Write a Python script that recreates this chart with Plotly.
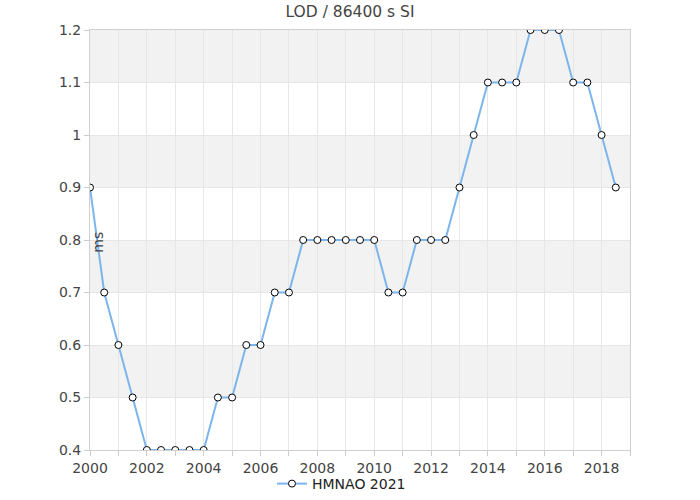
import plotly.graph_objects as go

years = [2000, 2000.5, 2001, 2001.5, 2002, 2002.5, 2003, 2003.5, 2004, 2004.5,
         2005, 2005.5, 2006, 2006.5, 2007, 2007.5, 2008, 2008.5, 2009, 2009.5,
         2010, 2010.5, 2011, 2011.5, 2012, 2012.5, 2013, 2013.5, 2014, 2014.5,
         2015, 2015.5, 2016, 2016.5, 2017, 2017.5, 2018, 2018.5]
lod_ms = [0.9, 0.7, 0.6, 0.5, 0.4, 0.4, 0.4, 0.4, 0.4, 0.5,
          0.5, 0.6, 0.6, 0.7, 0.7, 0.8, 0.8, 0.8, 0.8, 0.8,
          0.8, 0.7, 0.7, 0.8, 0.8, 0.8, 0.9, 1.0, 1.1, 1.1,
          1.1, 1.2, 1.2, 1.2, 1.1, 1.1, 1.0, 0.9]
series_name = "HMNAO 2021"
title_text = "LOD / 86400 s SI"
y_label = "ms"
band_edges = [0.4, 0.5, 0.6, 0.7, 0.8, 0.9, 1.0, 1.1, 1.2]

fig = go.Figure()
fig.add_trace(go.Scatter(
    x=years, y=lod_ms, mode="lines+markers", name=series_name,
    line=dict(color="#7cb5ec", width=2),
    marker=dict(symbol="circle", size=7, color="white",
                line=dict(color="black", width=1)),
))

shapes = []
for i in range(len(band_edges) - 1):
    if (len(band_edges) - 2 - i) % 2 == 0:
        shapes.append(dict(type="rect", xref="paper", yref="y", x0=0, x1=1,
                           y0=band_edges[i], y1=band_edges[i + 1],
                           fillcolor="#f2f2f2", line_width=0, layer="below"))

fig.update_layout(
    width=700, height=500,
    margin=dict(l=90, r=70, t=30, b=50, autoexpand=False),
    paper_bgcolor="white", plot_bgcolor="white",
    font=dict(family="DejaVu Sans", size=14, color="#444"),
    title=dict(text=title_text, x=0.5, xanchor="center", y=0.976, yanchor="middle",
               font=dict(size=15.5, color="#444")),
    shapes=shapes,
    showlegend=True,
    legend=dict(orientation="h", x=0.337, xanchor="left", y=0.032, yanchor="middle",
                yref="container",
                font=dict(size=14, color="#222"), bgcolor="rgba(0,0,0,0)"),
    xaxis=dict(range=[2000, 2019], dtick=2, tick0=2000, ticks="outside",
               ticklen=5, tickcolor="#ccc", showgrid=True, gridcolor="#e6e6e6",
               showline=True, linecolor="#d0d0d0", mirror=True, zeroline=False,
               automargin=False,
               tickfont=dict(size=14, color="#444"),
               minor=dict(dtick=1, ticks="outside", ticklen=5, tickcolor="#ccc",
                          showgrid=True, gridcolor="#e6e6e6")),
    yaxis=dict(range=[0.4, 1.2], dtick=0.1, ticks="outside", ticklen=5,
               tickcolor="#ccc", showgrid=True, gridcolor="#e6e6e6",
               showline=True, linecolor="#d0d0d0", mirror=True, zeroline=False,
               automargin=False,
               tickfont=dict(size=14, color="#444")),
    annotations=[dict(text=y_label, textangle=-90, xref="paper", yref="y",
                      x=0.015, y=0.795, xanchor="center", yanchor="middle",
                      showarrow=False, font=dict(size=14, color="#444"))],
)

fig.write_html("out.html", config={"displayModeBar": False},
               post_script="document.body.style.margin='0';")
